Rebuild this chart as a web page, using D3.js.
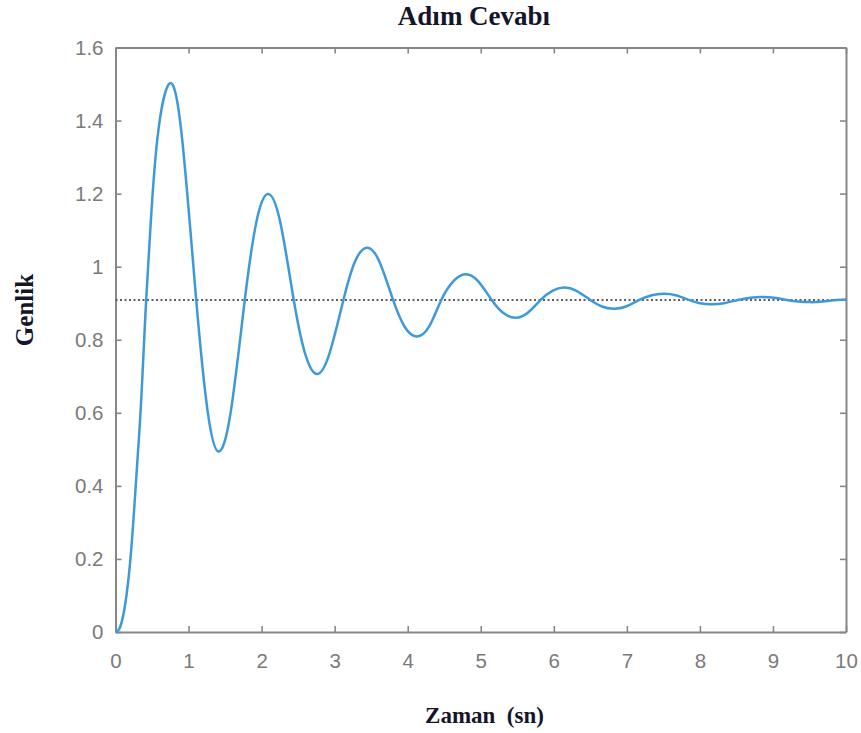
<!DOCTYPE html>
<html><head><meta charset="utf-8">
<script src="https://cdn.jsdelivr.net/npm/d3@7"></script>
<style>body{margin:0;background:#fff}</style>
</head><body><svg id="c" width="861" height="733"></svg>
<script>
// Step response samples
const time = [0, 0.05, 0.10, 0.15, 0.20, 0.25, 0.30, 0.345, 0.39, 0.42, 0.47, 0.573,
  0.743, 0.913, 1.105, 1.263,
  1.407, 1.577, 1.77, 1.93,
  2.083, 2.253, 2.44, 2.60,
  2.754, 2.924, 3.12, 3.28,
  3.44, 3.61, 3.80, 3.96,
  4.12, 4.29, 4.46, 4.63,
  4.79, 4.96, 5.15, 5.31,
  5.47, 5.64, 5.82, 5.98,
  6.14, 6.31, 6.50, 6.66,
  6.82, 6.99, 7.17, 7.34,
  7.50, 7.67, 7.85, 8.00,
  8.16, 8.33, 8.52, 8.69,
  8.85, 9.02, 9.19, 9.35,
  9.51, 9.68, 9.87, 10.0];
const amplitude = [0, 0.008, 0.04, 0.10, 0.19, 0.32, 0.47, 0.61, 0.79, 0.909, 1.08, 1.35,
  1.502, 1.348, 0.909, 0.602,
  0.494, 0.602, 0.909, 1.124,
  1.199, 1.124, 0.909, 0.759,
  0.706, 0.759, 0.909, 1.015,
  1.052, 1.015, 0.909, 0.835,
  0.809, 0.835, 0.909, 0.961,
  0.979, 0.961, 0.909, 0.873,
  0.860, 0.873, 0.909, 0.934,
  0.943, 0.934, 0.909, 0.891,
  0.885, 0.891, 0.909, 0.922,
  0.926, 0.922, 0.909, 0.900,
  0.897, 0.900, 0.909, 0.915,
  0.917, 0.915, 0.909, 0.9046,
  0.903, 0.9046, 0.909, 0.910];
const steadyState = 0.909;
const xTicks = [0,1,2,3,4,5,6,7,8,9,10];
const yTicks = [0,0.2,0.4,0.6,0.8,1,1.2,1.4,1.6];
const titleText = "Adım Cevabı";
const xLabelText = "Zaman\u00a0\u00a0(sn)";
const yLabelText = "Genlik";

const svg = d3.select("#c");
const L = 115.5, R = 846, T = 47.5, B = 632;
const x = d3.scaleLinear().domain([0, 10]).range([L, R]);
const y = d3.scaleLinear().domain([0, 1.6]).range([B, T]);

const axisColor = "#878787", labelColor = "#7a7a7a";
function style(g){
  g.select(".domain").attr("stroke", axisColor).attr("stroke-width", 2);
  g.selectAll(".tick line").attr("stroke", axisColor).attr("stroke-width", 1.6);
  g.selectAll(".tick text").attr("fill", labelColor)
    .attr("font-family", "'Liberation Sans', Arial, sans-serif").attr("font-size", 20.5);
}
const fmt = d => String(+d.toFixed(1));
svg.append("g").attr("transform", `translate(0,${B})`)
  .call(d3.axisBottom(x).tickValues(xTicks).tickFormat(fmt).tickSizeInner(-6).tickSizeOuter(0).tickPadding(21))
  .call(style);
svg.append("g").attr("transform", `translate(0,${T})`)
  .call(d3.axisTop(x).tickValues(xTicks).tickFormat("").tickSizeInner(-6).tickSizeOuter(0))
  .call(style);
svg.append("g").attr("transform", `translate(${L},0)`)
  .call(d3.axisLeft(y).tickValues(yTicks).tickFormat(fmt).tickSizeInner(-6).tickSizeOuter(0).tickPadding(12))
  .call(style);
svg.append("g").attr("transform", `translate(${R},0)`)
  .call(d3.axisRight(y).tickValues(yTicks).tickFormat("").tickSizeInner(-6).tickSizeOuter(0))
  .call(style);

// steady state dotted line
svg.append("line")
  .attr("x1", x(0)).attr("x2", x(10))
  .attr("y1", y(steadyState)).attr("y2", y(steadyState))
  .attr("stroke", "#5f5f5f").attr("stroke-width", 2)
  .attr("stroke-dasharray", "2,2.5");

const data = time.map((t, i) => [t, amplitude[i]]);
svg.append("path").datum(data)
  .attr("fill", "none").attr("stroke", "#3d99d8").attr("stroke-width", 2.5)
  .attr("d", d3.line().x(d => x(d[0])).y(d => y(d[1])).curve(d3.curveNatural));

const serif = "'Liberation Serif', 'Times New Roman', serif";
svg.append("text").attr("x", 474).attr("y", 25).attr("text-anchor", "middle")
  .attr("font-family", serif).attr("font-weight", "bold").attr("font-size", 27)
  .attr("fill", "#15152a").text(titleText);
svg.append("text").attr("x", 484.5).attr("y", 723).attr("text-anchor", "middle")
  .attr("font-family", serif).attr("font-weight", "bold").attr("font-size", 23)
  .attr("fill", "#15152a").text(xLabelText);
svg.append("text").attr("transform", "translate(33,310) rotate(-90)").attr("text-anchor", "middle")
  .attr("font-family", serif).attr("font-weight", "bold").attr("font-size", 25)
  .attr("fill", "#15152a").text(yLabelText);
</script></body></html>
